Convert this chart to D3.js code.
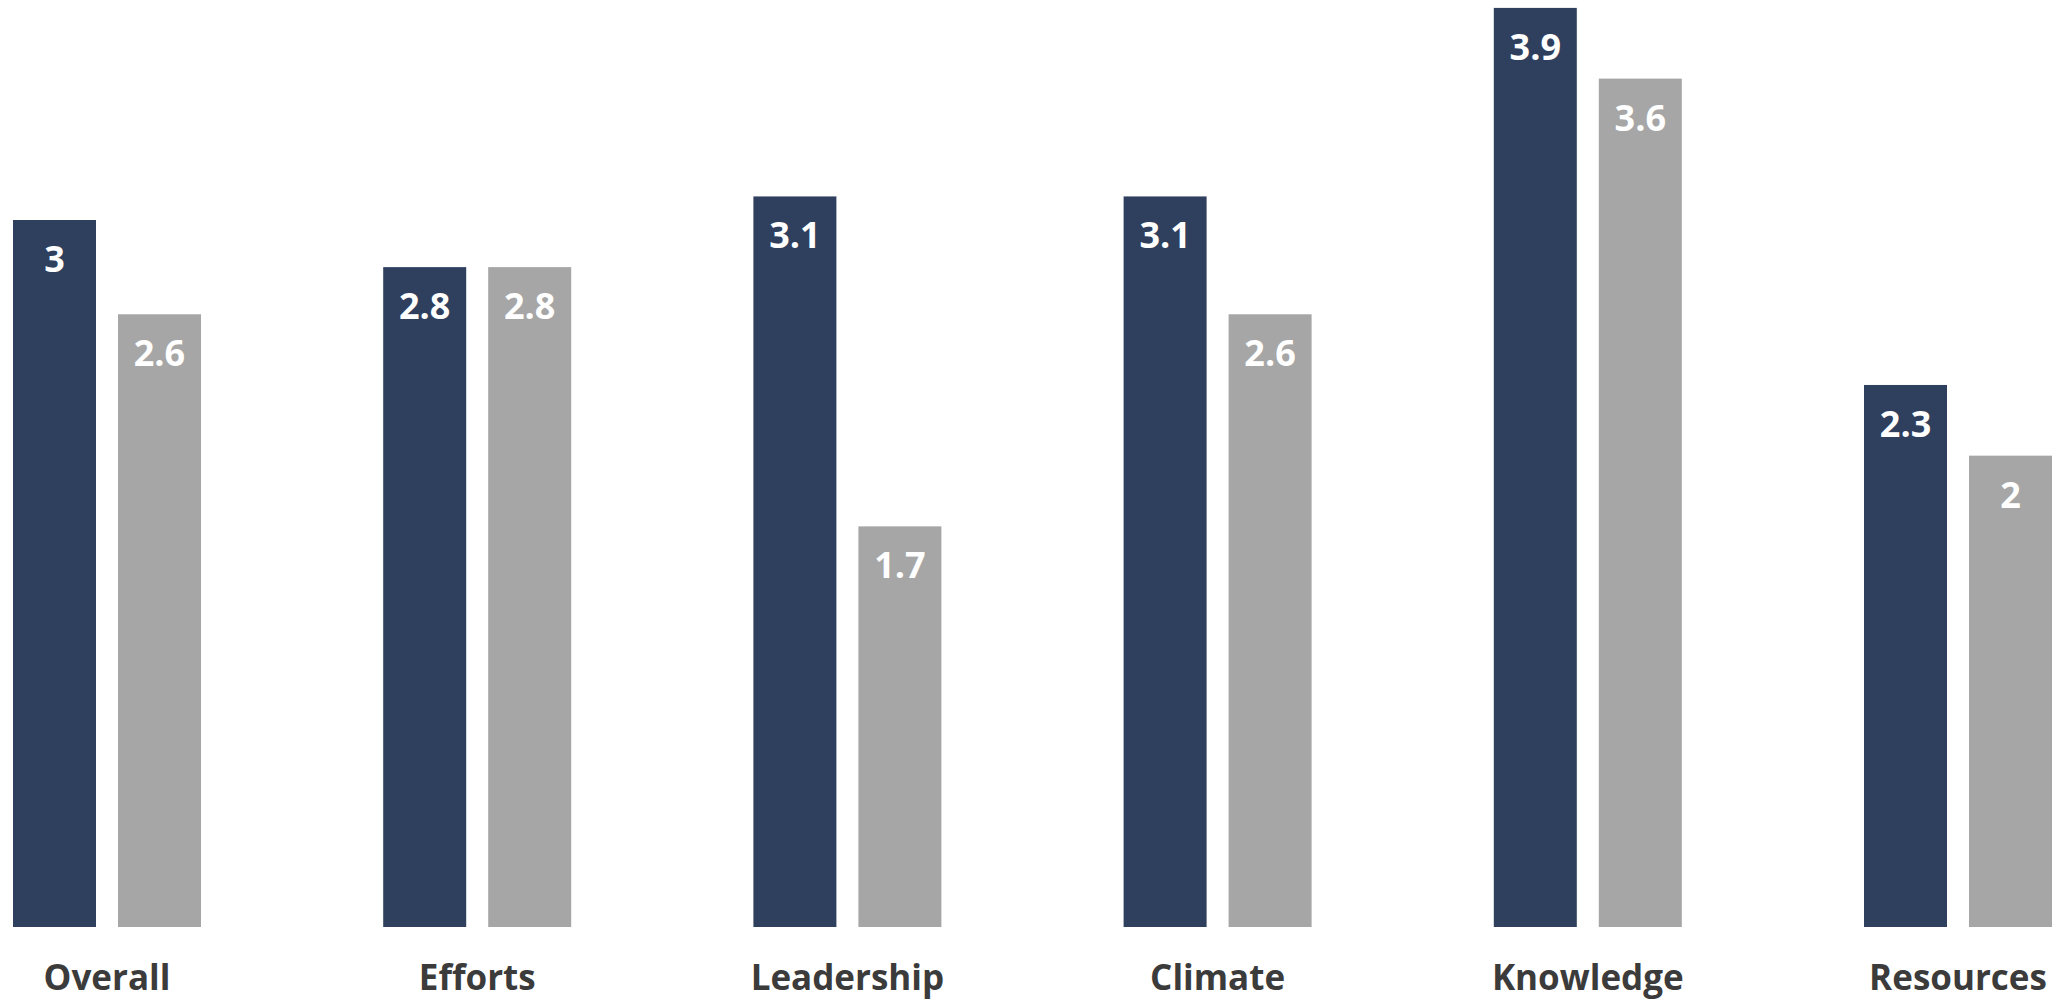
<!DOCTYPE html>
<html>
<head>
<meta charset="utf-8">
<script src="https://cdn.jsdelivr.net/npm/d3@7"></script>
<style>
  html, body { margin: 0; padding: 0; background: #fff; }
  svg { display: block; }
</style>
</head>
<body>
<div id="chart"></div>
<script>
// chart values
const categories = ["Overall", "Efforts", "Leadership", "Climate", "Knowledge", "Resources"];
const seriesNames = ["first", "second"];
const firstValues = [3, 2.8, 3.1, 3.1, 3.9, 2.3];
const secondValues = [2.6, 2.8, 1.7, 2.6, 3.6, 2];
const colors = ["#2f405e", "#a6a6a6"];

const width = 2058, height = 1002;
const baseline = 927;

const svg = d3.select("#chart")
  .append("svg")
  .attr("width", width)
  .attr("height", height);

// group positions
const x = d3.scaleBand()
  .domain(categories)
  .range([-78.1, 2143.1])
  .padding(0);

// bars inside a group
const xSeries = d3.scaleBand()
  .domain(seriesNames)
  .range([-94, 94])
  .paddingInner(0.2095);

const y = d3.scaleLinear()
  .domain([0, 3])
  .range([baseline, 220]);

const rows = categories.map((c, i) => ({
  category: c,
  values: [
    {key: "first", value: firstValues[i]},
    {key: "second", value: secondValues[i]}
  ]
}));

const groups = svg.selectAll("g.group")
  .data(rows)
  .enter()
  .append("g")
  .attr("class", "group")
  .attr("transform", d => "translate(" + (x(d.category) + x.bandwidth() / 2) + ",0)");

groups.selectAll("rect")
  .data(d => d.values)
  .enter()
  .append("rect")
  .attr("x", d => xSeries(d.key))
  .attr("y", d => y(d.value))
  .attr("width", xSeries.bandwidth())
  .attr("height", d => baseline - y(d.value))
  .style("fill", (d, i) => colors[i]);

// value labels inside the bars
groups.selectAll("text.value")
  .data(d => d.values)
  .enter()
  .append("text")
  .attr("class", "value")
  .attr("x", d => xSeries(d.key) + xSeries.bandwidth() / 2)
  .attr("y", d => y(d.value) + 52)
  .attr("text-anchor", "middle")
  .style("font-family", "'Open Sans', sans-serif")
  .style("font-weight", "bold")
  .style("font-size", "36px")
  .style("fill", "#ffffff")
  .text(d => d.value);

// category labels
groups.append("text")
  .attr("class", "category")
  .attr("x", 0)
  .attr("y", 990)
  .attr("text-anchor", "middle")
  .style("font-family", "'Open Sans', sans-serif")
  .style("font-weight", "bold")
  .style("font-size", "35px")
  .style("fill", "#3b3b3b")
  .text(d => d.category);
</script>
</body>
</html>
